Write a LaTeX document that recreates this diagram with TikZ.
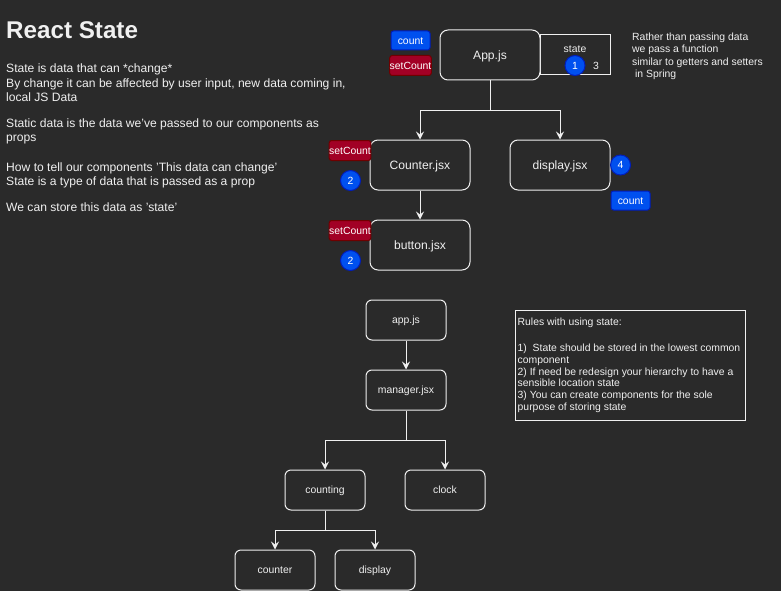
\documentclass[tikz,border=0pt]{standalone}
\usepackage{fontspec}
\setmainfont{Liberation Sans}
\usetikzlibrary{arrows.meta}
\definecolor{bg}{HTML}{2A2A2A}
\definecolor{fg}{HTML}{F0F0F0}
\definecolor{bblue}{HTML}{0050EF}
\definecolor{bbluestroke}{HTML}{001DBC}
\definecolor{bred}{HTML}{A20025}
\definecolor{bredstroke}{HTML}{6F0000}
\newcommand{\smallfont}{\fontsize{10.4}{12}\selectfont}
\newcommand{\bodyfont}{\fontsize{12.1}{14.4}\selectfont}
\tikzset{
  comp/.style={draw=fg, line width=1pt, rounded corners=8pt, fill=bg, text=fg,
    font=\bodyfont, minimum width=100pt, minimum height=50pt, inner sep=0pt,
    text height=8.6pt, text depth=0pt},
  scomp/.style={draw=fg, line width=1pt, rounded corners=6pt, fill=bg, text=fg,
    font=\smallfont, minimum width=80pt, minimum height=40pt, inner sep=0pt,
    text height=7.4pt, text depth=0pt},
  bluebadge/.style={draw=bbluestroke, fill=bblue, line width=1pt, rounded corners=2.5pt,
    text=white, font=\smallfont, minimum width=39pt, minimum height=19pt, inner sep=0pt,
    text height=7.4pt, text depth=0pt},
  redbadge/.style={draw=bredstroke, fill=bred, line width=1pt, rounded corners=2.5pt,
    text=white, font=\smallfont, minimum width=40pt, minimum height=20pt, inner sep=0pt,
    text height=7.4pt, text depth=0pt},
  numc/.style={circle, draw=bbluestroke, fill=bblue, line width=1pt, minimum size=20pt,
    inner sep=0pt, text=white, font=\smallfont, text height=7.4pt, text depth=0pt},
  txt/.style={anchor=base west, inner sep=0pt, text=fg, font=\bodyfont},
  stxt/.style={anchor=base west, inner sep=0pt, text=fg, font=\smallfont},
  ctxt/.style={inner sep=0pt, text=fg, font=\smallfont, text height=7.4pt, text depth=0pt},
  arr/.style={draw=fg, line width=1pt, -{Stealth[length=8pt,width=8pt,inset=3pt]}},
}
\begin{document}
\begin{tikzpicture}[x=1pt,y=-1pt]
\fill[bg] (0,0) rectangle (781,591);
\useasboundingbox (0,0) rectangle (781,591);

% left text
\node[txt, font=\fontsize{24.2}{28}\selectfont\bfseries] (title) at (6,39) {React State};
\node[txt] (l1) at (6,72.8) {State is data that can *change*};
\node[txt] (l2) at (6,87.2) {By change it can be affected by user input, new data coming in,};
\node[txt] (l3) at (6,101.6) {local JS Data};
\node[txt] (l4) at (6,127.2) {Static data is the data we've passed to our components as};
\node[txt] (l5) at (6,141.6) {props};
\node[txt] (l6) at (6,171.2) {How to tell our components 'This data can change'};
\node[txt] (l7) at (6,185.6) {State is a type of data that is passed as a prop};
\node[txt] (l8) at (6,211.2) {We can store this data as 'state'};

% upper hierarchy
\node[draw=fg, line width=1pt, minimum width=70pt, minimum height=40pt, inner sep=0pt] (state) at (575,55) {};
\node[ctxt] (statelbl) at (575,48.5) {state};
\node[numc] (n1) at (575,65.5) {1};
\node[ctxt] (three) at (596,65.5) {3};
\node[comp] (app) at (490,55) {App.js};
\node[bluebadge] (cnt1) at (410.5,40.5) {count};
\node[redbadge] (set1) at (410.5,65.5) {setCount};

\node[stxt] (r1) at (632,40.5) {Rather than passing data};
\node[stxt] (r2) at (632,52.8) {we pass a function};
\node[stxt] (r3) at (632,65.1) {similar to getters and setters};
\node[stxt] (r4) at (632,77.4) {\ in Spring};

\node[comp] (counter) at (420,165) {Counter.jsx};
\node[comp] (display) at (560,165) {display.jsx};
\node[comp] (button) at (420,245) {button.jsx};
\node[redbadge] (set2) at (350,150.5) {setCount};
\node[numc] (n2a) at (350.5,180.5) {2};
\node[redbadge] (set3) at (350,230.5) {setCount};
\node[numc] (n2b) at (350.5,260.5) {2};
\node[numc] (n4) at (620.5,165) {4};
\node[bluebadge] (cnt2) at (630.5,200.5) {count};

\draw[arr] (app.south) -- ++(0,30) -| (counter.north);
\draw[arr] (app.south) -- ++(0,30) -| (display.north);
\draw[arr] (counter.south) -- (button.north);

% lower hierarchy
\node[scomp] (app2) at (406,320) {app.js};
\node[scomp] (manager) at (406,390) {manager.jsx};
\node[scomp] (counting) at (325,490) {counting};
\node[scomp] (clock) at (445,490) {clock};
\node[scomp] (counter2) at (275,570) {counter};
\node[scomp] (display2) at (375,570) {display};

\draw[arr] (app2.south) -- (manager.north);
\draw[arr] (manager.south) -- ++(0,30) -| (counting.north);
\draw[arr] (manager.south) -- ++(0,30) -| (clock.north);
\draw[arr] (counting.south) -- ++(0,20) -| (counter2.north);
\draw[arr] (counting.south) -- ++(0,20) -| (display2.north);

% rules box
\node[draw=fg, line width=1pt, minimum width=230pt, minimum height=110.5pt, inner sep=0pt] (rules) at (630,365.6) {};
\node[stxt] (q1) at (517.5,325.3) {Rules with using state:};
\node[stxt] (q2) at (517.5,351.8) {1)\ \ State should be stored in the lowest common};
\node[stxt] (q3) at (517.5,363.3) {component};
\node[stxt] (q4) at (517.5,375.2) {2) If need be redesign your hierarchy to have a};
\node[stxt] (q5) at (517.5,386.7) {sensible location state};
\node[stxt] (q6) at (517.5,398.3) {3) You can create components for the sole};
\node[stxt] (q7) at (517.5,410.2) {purpose of storing state};
\end{tikzpicture}
\end{document}
